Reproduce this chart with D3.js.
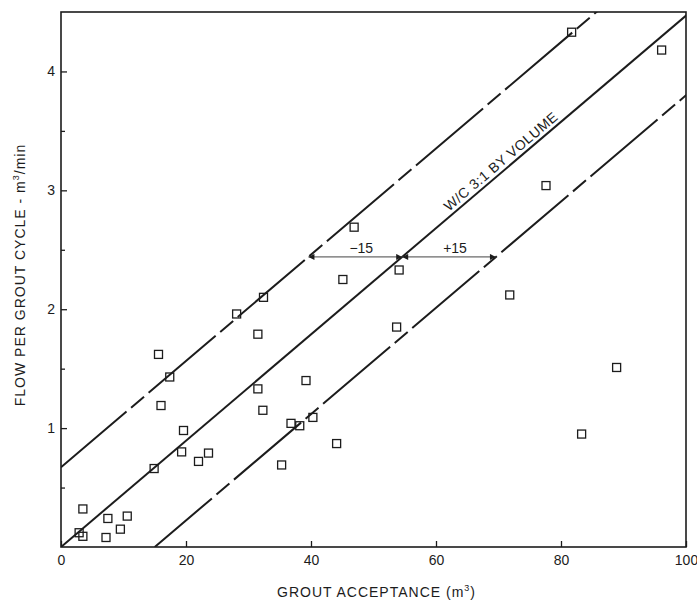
<!DOCTYPE html>
<html>
<head>
<meta charset="utf-8">
<script src="https://cdn.jsdelivr.net/npm/d3@7/dist/d3.min.js"></script>
<style>
  html, body { margin: 0; padding: 0; background: #fff; }
  svg { display: block; font-family: "Liberation Sans", Arial, Helvetica, sans-serif; }
</style>
</head>
<body>
<svg id="chart" width="697" height="602"></svg>
<script>
// ---------- data ----------
const acceptance = [2.9, 3.5, 3.5, 7.2, 7.5, 9.5, 10.6, 14.9, 16.0, 15.6, 17.4, 19.3, 19.6, 22.0, 23.6,
  28.1, 31.5, 32.4, 31.5, 32.3, 35.3, 36.8, 38.2, 40.3, 39.2, 44.1, 45.1, 46.9, 53.7, 54.1,
  71.8, 77.6, 81.7, 83.3, 88.9, 96.1];
const flow = [0.12, 0.09, 0.32, 0.08, 0.24, 0.15, 0.26, 0.66, 1.19, 1.62, 1.43, 0.80, 0.98, 0.72, 0.79,
  1.96, 1.79, 2.10, 1.33, 1.15, 0.69, 1.04, 1.02, 1.09, 1.40, 0.87, 2.25, 2.69, 1.85, 2.33,
  2.12, 3.04, 4.33, 0.95, 1.51, 4.18];
const xTicks = [0, 20, 40, 60, 80, 100];
const yTicks = [1, 2, 3, 4];
const yMinorTicks = [0.5, 1.5, 2.5, 3.5];
const ratioSlope = 0.0447;      // flow per m3 of acceptance (W/C 3:1 by volume)
const bandOffsets = [-15, 0, 15]; // shift in grout acceptance (m3)
const arrowLevel = 2.44;
const xLabel = "GROUT ACCEPTANCE (m";
const yLabel = "FLOW PER GROUT CYCLE - m";
const lineLabel = "W/C 3:1 BY VOLUME";

// ---------- layout ----------
const svg = d3.select("#chart");
const x = d3.scaleLinear().domain([0, 100]).range([61, 686]);
const y = d3.scaleLinear().domain([0, 4.5]).range([547, 12]);
const ink = "#1c1c1c";

// clip
svg.append("defs").append("clipPath").attr("id", "plotClip")
  .append("rect").attr("x", x(0)).attr("y", y(4.5)).attr("width", x(100) - x(0)).attr("height", y(0) - y(4.5));

const defs = svg.select("defs");
defs.append("marker").attr("id", "arrow").attr("viewBox", "0 0 10 10")
  .attr("refX", 10).attr("refY", 5).attr("markerWidth", 9).attr("markerHeight", 6)
  .attr("markerUnits", "userSpaceOnUse").attr("orient", "auto-start-reverse")
  .append("path").attr("d", "M0,0L10,5L0,10z").attr("fill", ink);

// axes
const xAxis = d3.axisBottom(x).tickValues(xTicks).tickSize(-6).tickPadding(8).tickFormat(d3.format("d"));
const gx = svg.append("g").attr("transform", `translate(0,${y(0)})`).call(xAxis);
const yAxis = d3.axisLeft(y).tickValues(yTicks).tickSize(-6).tickPadding(6).tickFormat(d3.format("d"));
const gy = svg.append("g").attr("transform", `translate(${x(0)},0)`).call(yAxis);
const yMinor = d3.axisLeft(y).tickValues(yMinorTicks).tickSize(-4).tickFormat("");
const gym = svg.append("g").attr("transform", `translate(${x(0)},0)`).call(yMinor);
[gx, gy, gym].forEach(g => {
  g.select(".domain").remove();
  g.selectAll("line").attr("stroke", ink).attr("stroke-width", 1.3);
  g.selectAll("text").attr("fill", ink).style("font-size", "14px")
    .style("font-family", '"Liberation Sans", Arial, sans-serif');
});

// frame
svg.append("rect").attr("x", x(0)).attr("y", y(4.5))
  .attr("width", x(100) - x(0)).attr("height", y(0) - y(4.5))
  .attr("fill", "none").attr("stroke", ink).attr("stroke-width", 1.6);

// band lines
const plot = svg.append("g").attr("clip-path", "url(#plotClip)");
bandOffsets.forEach(off => {
  const x0 = Math.max(0, -off);
  const pts = [[x0, ratioSlope * (x0 + off)], [110, ratioSlope * (110 + off)]];
  const p = plot.append("path")
    .attr("d", d3.line().x(d => x(d[0])).y(d => y(d[1]))(pts))
    .attr("fill", "none").attr("stroke", ink).attr("stroke-width", 2);
  if (off !== 0) {
    p.attr("stroke-dasharray", "88,6,17,6")
     .attr("stroke-dashoffset", off < 0 ? 13 : 2);
  }
});

// arrows +/-15
const xc = arrowLevel / ratioSlope;
[-15, 15].forEach(off => {
  plot.append("line")
    .attr("x1", x(xc)).attr("y1", y(arrowLevel))
    .attr("x2", x(xc + off)).attr("y2", y(arrowLevel))
    .attr("stroke", "#444").attr("stroke-width", 1)
    .attr("marker-start", "url(#arrow)").attr("marker-end", "url(#arrow)");
  svg.append("text")
    .attr("x", x(xc + off / 2) + 6).attr("y", y(arrowLevel) - 4)
    .attr("text-anchor", "middle").attr("fill", ink).style("font-size", "14px")
    .text((off < 0 ? "\u2212" : "+") + Math.abs(off));
});

// line label
const ang = Math.atan2(y(ratioSlope * 10) - y(0), x(10) - x(0)) * 180 / Math.PI;
const lx = 71.3;
svg.append("text")
  .attr("transform", `translate(${x(lx)},${y(ratioSlope * lx)}) rotate(${ang})`)
  .attr("y", -4).attr("text-anchor", "middle").attr("fill", ink)
  .style("font-size", "14px").style("letter-spacing", "0.5px")
  .text(lineLabel);

// points
const pts = acceptance.map((a, i) => ({ a, f: flow[i] }));
const s = 8;
svg.append("g").selectAll("rect").data(pts).join("rect")
  .attr("x", d => x(d.a) - s / 2).attr("y", d => y(d.f) - s / 2)
  .attr("width", s).attr("height", s)
  .attr("fill", "none").attr("stroke", ink).attr("stroke-width", 1.3);

// axis titles
const xt = svg.append("text").attr("x", (x(0) + x(100)) / 2 + 3).attr("y", 597)
  .attr("text-anchor", "middle").attr("fill", ink)
  .style("font-size", "14px").style("letter-spacing", "1px");
xt.append("tspan").text(xLabel);
xt.append("tspan").attr("dy", -6).style("font-size", "9px").text("3");
xt.append("tspan").attr("dy", 6).text(")");

const yt = svg.append("text").attr("transform", "translate(25,275) rotate(-90)")
  .attr("text-anchor", "middle").attr("fill", ink)
  .style("font-size", "14px").style("letter-spacing", "1px");
yt.append("tspan").text(yLabel);
yt.append("tspan").attr("dy", -6).style("font-size", "9px").text("3");
yt.append("tspan").attr("dy", 6).text("/min");
</script>
</body>
</html>
